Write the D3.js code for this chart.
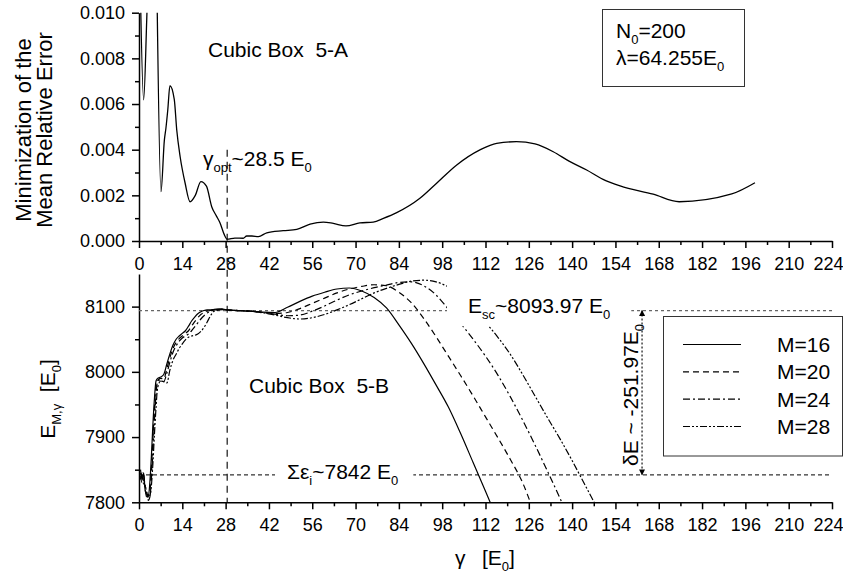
<!DOCTYPE html>
<html>
<head>
<meta charset="utf-8">
<script src="https://cdn.jsdelivr.net/npm/d3@7.9.0/dist/d3.min.js"></script>
<style>
  html, body { margin: 0; padding: 0; background: #fff; }
  svg { display: block; font-family: 'Liberation Sans', Arial, Helvetica, sans-serif; }
</style>
</head>
<body>
<svg id="chart" width="843" height="575"></svg>
<script>
// shared gamma axis
const gammaTicks = d3.range(0, 225, 14);
const gammaMinorTicks = d3.range(7, 225, 14);

// panel 5-A : mean relative error vs gamma
const errGamma = [0.3, 1.5, 2.5, 4.5, 7.1, 8.2, 8.7, 9.3, 10.0, 11.4, 12.2, 13.3, 14.9, 16.5, 18.2,
  20.0, 21.8, 23.5, 25.0, 26.2, 27.5, 28.5, 31, 33.7, 34.8, 36.5, 38.6, 41.3, 46.6, 51, 55.3, 59.6,
  62.8, 66.9, 71.4, 75.7, 79, 83.3, 90.8, 96.2, 102.7, 110.2, 115.6, 122, 128, 133.9, 139, 144.7,
  150, 155.5, 166.2, 174.6, 191.6, 199.1];
const errValue = [0.0120, 0.00618, 0.0097, 0.0200, 0.00216, 0.00442, 0.00494, 0.00574, 0.00680, 0.0062,
  0.00486, 0.00369, 0.00254, 0.00172, 0.0020, 0.0026, 0.0024, 0.0015, 0.0011, 0.00079, 0.0003, 0.00008,
  0.00013, 0.00012, 0.00022, 0.00022, 0.00019, 0.00036, 0.00045, 0.00051, 0.00074, 0.00083, 0.00077,
  0.00066, 0.00079, 0.00083, 0.00099, 0.00124, 0.00187, 0.00253, 0.00333, 0.00399, 0.00428, 0.00435,
  0.00425, 0.00391, 0.0035, 0.00311, 0.0027, 0.00241, 0.00205, 0.00172, 0.00206, 0.00255];
const errTicks = [0, 0.002, 0.004, 0.006, 0.008, 0.010];
const errMinorTicks = [0.001, 0.003, 0.005, 0.007, 0.009];

// panel 5-B : energy E(M, gamma)
const gamma = [0.5, 1, 1.5, 2, 2.5, 3, 3.5, 4, 4.5, 5, 5.5, 6,
  7, 8, 9, 10, 11, 12, 13, 14, 15, 16, 17, 18, 19, 20, 21, 22, 23, 24, 25, 26, 27, 28.5,
  32, 36, 40, 44, 48, 52, 56, 60, 64, 68, 72, 76, 80, 84, 88, 92, 96, 100, 104, 108, 112,
  116, 120, 124, 128, 132, 136, 140, 144, 148, 152];
const energyM16 = [7850, 7835, 7845, 7818, 7812, 7808, 7830, 7870, 7920, 7960, 7986, 7990,
  7992, 7996, 8012, 8028, 8041, 8050, 8055, 8059, 8063, 8070, 8078, 8084, 8089, 8092, 8094, 8095,
  8095, 8095.5, 8096, 8096, 8096, 8095,
  8094, 8093, 8091.5, 8091, 8099, 8108, 8116, 8122, 8127, 8128.5, 8124, 8114, 8098, 8072, 8044,
  8013, 7980, 7946, 7905, 7861, 7817, 7772, null, null, null, null, null, null, null, null, null];
const energyM20 = [7845, 7838, 7830, 7825, 7815, 7810, 7815, 7850, 7900, 7945, 7978, 7987,
  7990, 7989, 8005, 8022, 8036, 8045, 8051, 8055, 8059, 8063, 8070, 8077, 8083, 8088, 8091, 8093,
  8094, 8095, 8095.5, 8096, 8096, 8095,
  8094, 8093, 8091, 8089.5, 8091, 8097, 8105, 8113, 8121, 8127, 8131, 8133.5, 8132, 8122, 8106,
  8082, 8054, 8024, 7994, 7963, 7931, 7899, 7866, 7830, 7780, null, null, null, null, null, null];
const energyM24 = [7840, 7830, 7842, 7820, 7808, 7812, 7808, 7835, 7880, 7925, 7965, 7985,
  7988, 7985, 7998, 8015, 8030, 8040, 8047, 8052, 8055, 8058, 8063, 8069, 8075, 8081, 8086, 8090,
  8093, 8094.5, 8095, 8095.5, 8096, 8095,
  8094, 8093, 8091, 8088.5, 8086, 8087, 8093, 8101, 8110, 8118, 8124, 8129, 8133, 8137, 8138,
  8132, 8118, 8096, 8074, 8050, 8024, 7995, 7962, 7926, 7888, 7848, 7807, 7765, null, null, null];
const energyM28 = [7835, 7845, 7830, 7825, 7815, 7803, 7808, 7825, 7860, 7905, 7945, 7975,
  7986, 7985, 7983, 8003, 8018, 8027, 8036, 8043, 8049, 8053, 8055, 8056, 8058, 8062, 8068, 8076,
  8085, 8092, 8094, 8095, 8095.5, 8095,
  8094, 8093, 8090.5, 8087, 8083, 8081, 8083, 8088, 8095, 8103, 8112, 8121, 8128, 8134, 8139,
  8140.5, 8138, 8130, 8116, 8097, 8076, 8053, 8027, 7996, 7963, 7930, 7898, 7864, 7828, 7792, 7755];
const seriesLabels = ['M=16', 'M=20', 'M=24', 'M=28'];
const seriesDash = [null, '6,4', '7,3,2,3', '7,2,2,2,2,2'];
const energyTicks = [7800, 7900, 8000, 8100];
const energyMinorTicks = [7850, 7950, 8050];

// annotations
const gammaOpt = 28.5;
const energySC = 8093.97;
const energySum = 7842;
const deltaGamma = 162.6;

const svg = d3.select('#chart');

const x = d3.scaleLinear().domain([0, 224]).range([139, 832]);
const yA = d3.scaleLinear().domain([0, 0.010]).range([241, 12.7]);
const yB = d3.scaleLinear().domain([7800, 8150]).range([502.3, 274]);

const TICK_FONT = 18;
const LABEL_FONT = 21;

// defs: clip paths + arrow heads
const defs = svg.append('defs');
defs.append('clipPath').attr('id', 'clipA').append('rect')
  .attr('x', x(0)).attr('y', yA(0.010)).attr('width', x(224) - x(0)).attr('height', yA(0) - yA(0.010));
defs.append('clipPath').attr('id', 'clipB').append('rect')
  .attr('x', x(0)).attr('y', yB(8150)).attr('width', x(224) - x(0)).attr('height', yB(7800) - yB(8150));
['arrowUp', 'arrowDown'].forEach((id) => {
  defs.append('marker').attr('id', id)
    .attr('viewBox', '0 0 10 10').attr('refX', 9).attr('refY', 5)
    .attr('markerWidth', 7).attr('markerHeight', 6).attr('markerUnits', 'userSpaceOnUse')
    .attr('orient', 'auto-start-reverse')
    .append('path').attr('d', 'M0,0 L10,5 L0,10 Z').attr('fill', '#000');
});

// rich text with subscripts: parts = [[text, isSub], ...]
const richText = (parent, px, py, parts, size, anchor = 'start') => {
  const t = parent.append('text')
    .attr('x', px).attr('y', py)
    .attr('font-size', size)
    .attr('text-anchor', anchor)
    .attr('fill', '#000');
  let shift = 0;
  parts.forEach(([str, isSub]) => {
    const target = isSub ? size * 0.3 : 0;
    t.append('tspan')
      .attr('dy', target - shift)
      .attr('font-size', isSub ? size * 0.62 : size)
      .text(str);
    shift = target;
  });
  return t;
};

const styleAxis = (g) => {
  g.selectAll('.domain').attr('stroke', '#000').attr('stroke-width', 1.5);
  g.selectAll('.tick line').attr('stroke', '#000').attr('stroke-width', 1.5);
  g.selectAll('.tick text').attr('font-size', TICK_FONT).attr('font-family', null).attr('fill', '#000');
};

const drawPanelAxes = (yScale, ticks, minorTicks, fmt) => {
  const base = yScale.range()[0];
  const minor = (axis) => axis.tickSize(4).tickSizeOuter(0).tickFormat('');

  svg.append('g').attr('transform', `translate(${x(0)},0)`)
    .call(minor(d3.axisLeft(yScale).tickValues(minorTicks)))
    .call(styleAxis).call((g) => g.select('.domain').remove());
  svg.append('g').attr('transform', `translate(${x(0)},0)`)
    .call(d3.axisLeft(yScale).tickValues(ticks).tickFormat(fmt).tickSize(7).tickSizeOuter(0).tickPadding(7))
    .call(styleAxis);

  svg.append('g').attr('transform', `translate(0,${base})`)
    .call(minor(d3.axisBottom(x).tickValues(gammaMinorTicks)))
    .call(styleAxis).call((g) => g.select('.domain').remove());
  svg.append('g').attr('transform', `translate(0,${base})`)
    .call(d3.axisBottom(x).tickValues(gammaTicks).tickFormat(d3.format('d')).tickSize(7).tickSizeOuter(0).tickPadding(9))
    .call(styleAxis)
    // last label sits at the page edge: nudge it inside
    .call((g) => g.selectAll('.tick text').filter((d) => d === 224).attr('dx', -4));
};

drawPanelAxes(yA, errTicks, errMinorTicks, d3.format('.3f'));
drawPanelAxes(yB, energyTicks, energyMinorTicks, d3.format('d'));

// ---- panel A curve
const errData = errGamma.map((g, i) => ({ g, v: errValue[i] }));
svg.append('g').attr('clip-path', 'url(#clipA)')
  .append('path')
  .datum(errData)
  .attr('fill', 'none').attr('stroke', '#000').attr('stroke-width', 1.3)
  .attr('d', d3.line().x((d) => x(d.g)).y((d) => yA(d.v)).curve(d3.curveMonotoneX));

// ---- panel B reference lines
svg.append('line')
  .attr('x1', x(0)).attr('x2', x(224)).attr('y1', yB(energySC)).attr('y2', yB(energySC))
  .attr('stroke', '#666').attr('stroke-width', 1.3).attr('stroke-dasharray', '3,3');
svg.append('line')
  .attr('x1', x(0)).attr('x2', x(224)).attr('y1', yB(energySum)).attr('y2', yB(energySum))
  .attr('stroke', '#000').attr('stroke-width', 1).attr('stroke-dasharray', '4,3');

// ---- panel B curves
const energySeries = [energyM16, energyM20, energyM24, energyM28];
const energyLine = d3.line()
  .defined((d) => d.v != null)
  .x((d) => x(d.g)).y((d) => yB(d.v))
  .curve(d3.curveMonotoneX);
const curvesB = svg.append('g').attr('clip-path', 'url(#clipB)');
energySeries.forEach((values, i) => {
  curvesB.append('path')
    .datum(gamma.map((g, j) => ({ g, v: values[j] })))
    .attr('fill', 'none').attr('stroke', '#000').attr('stroke-width', 1.2)
    .attr('stroke-dasharray', seriesDash[i])
    .attr('d', energyLine);
});

// gamma_opt vertical marker spanning both panels
svg.append('line')
  .attr('x1', x(gammaOpt)).attr('x2', x(gammaOpt))
  .attr('y1', yA(0.004)).attr('y2', yB(7800))
  .attr('stroke', '#000').attr('stroke-width', 1.1).attr('stroke-dasharray', '7,5');

// ---- labels with white backing
const labelWithBacking = (px, py, parts, pad) => {
  const grp = svg.append('g');
  const bg = grp.append('rect').attr('fill', '#fff');
  const t = richText(grp, px, py, parts, LABEL_FONT);
  const bb = t.node().getBBox();
  bg.attr('x', bb.x - pad[3]).attr('y', bb.y - pad[0])
    .attr('width', bb.width + pad[1] + pad[3]).attr('height', bb.height + pad[0] + pad[2]);
};
labelWithBacking(468, 313, [['E'], ['sc', true], ['~8093.97 E'], ['0', true]], [16, 21, 4, 21]);
labelWithBacking(287, 479, [['\u03a3\u03b5'], ['i', true], ['~7842 E'], ['0', true]], [-8, 15, -8, 12]);

// delta E arrow
svg.append('line')
  .attr('x1', x(deltaGamma)).attr('x2', x(deltaGamma))
  .attr('y1', yB(energySC)).attr('y2', yB(energySum))
  .attr('stroke', '#000').attr('stroke-width', 1.1).attr('stroke-dasharray', '2,2')
  .attr('marker-start', 'url(#arrowUp)').attr('marker-end', 'url(#arrowDown)');
const dE = svg.append('g').attr('transform', `translate(${x(deltaGamma) - 4},395) rotate(-90)`);
richText(dE, 0, 0, [['\u03b4E ~ -251.97E'], ['0', true]], LABEL_FONT, 'middle');

// panel titles
svg.append('text').attr('x', 208).attr('y', 57).attr('font-size', LABEL_FONT)
  .text('Cubic Box\u00a0\u00a05-A');
svg.append('text').attr('x', 249).attr('y', 393).attr('font-size', LABEL_FONT)
  .text('Cubic Box\u00a0\u00a05-B');

// gamma_opt annotation
richText(svg, 203, 166, [['\u03b3'], ['opt', true], ['~28.5 E'], ['0', true]], LABEL_FONT);

// parameter box
svg.append('rect').attr('x', 602.5).attr('y', 9.5).attr('width', 142).attr('height', 77)
  .attr('fill', '#fff').attr('stroke', '#333').attr('stroke-width', 1);
richText(svg, 616, 38, [['N'], ['0', true], ['=200']], LABEL_FONT);
richText(svg, 616, 65, [['\u03bb=64.255E'], ['0', true]], LABEL_FONT);

// legend
const legend = svg.append('g');
legend.append('rect').attr('x', 663.5).attr('y', 316.5).attr('width', 179).attr('height', 139.5)
  .attr('fill', '#fff').attr('stroke', '#333').attr('stroke-width', 1);
const rowY = d3.scalePoint().domain(seriesLabels).range([344.5, 426.5]);
seriesLabels.forEach((label, i) => {
  legend.append('line')
    .attr('x1', 683).attr('x2', 741).attr('y1', rowY(label)).attr('y2', rowY(label))
    .attr('stroke', '#000').attr('stroke-width', 1.2).attr('stroke-dasharray', seriesDash[i]);
  legend.append('text').attr('x', 777).attr('y', rowY(label) + 7.5).attr('font-size', LABEL_FONT)
    .text(label);
});

// axis titles
const yTitleA = svg.append('g').attr('transform', 'translate(0,130)');
yTitleA.append('text').attr('transform', 'translate(31,0) rotate(-90)')
  .attr('text-anchor', 'middle').attr('font-size', 22).text('Minimization of the');
yTitleA.append('text').attr('transform', 'translate(52,0) rotate(-90)')
  .attr('text-anchor', 'middle').attr('font-size', 22).text('Mean Relative Error');

const yTitleB = svg.append('g').attr('transform', 'translate(55,399) rotate(-90)');
richText(yTitleB, 0, 0, [['E'], ['M,\u03b3', true], ['\u00a0\u00a0[E'], ['0', true], [']']], LABEL_FONT, 'middle');

svg.append('text').attr('x', 455).attr('y', 565).attr('font-size', LABEL_FONT).text('\u03b3');
richText(svg, 482, 565, [['[E'], ['0', true], [']']], LABEL_FONT);
</script>
</body>
</html>
